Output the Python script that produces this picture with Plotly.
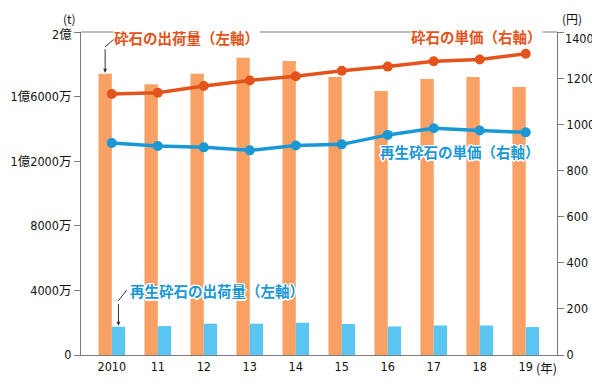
import plotly.graph_objects as go

years = ["2010", "11", "12", "13", "14", "15", "16", "17", "18", "19"]
crushed_ship = [1.742e8, 1.676e8, 1.742e8, 1.841e8, 1.820e8, 1.721e8, 1.635e8, 1.709e8, 1.721e8, 1.659e8]
recycled_ship = [1.75e7, 1.79e7, 1.94e7, 1.94e7, 2.00e7, 1.92e7, 1.77e7, 1.83e7, 1.83e7, 1.73e7]
crushed_price = [1131, 1137, 1166, 1190, 1208, 1232, 1250, 1273, 1281, 1306]
recycled_price = [919, 906, 900, 887, 908, 913, 954, 983, 973, 965]
left_tickvals = [0, 4e7, 8e7, 1.2e8, 1.6e8, 2e8]
left_ticktext = ["0", "4000万", "8000万", "1億2000万", "1億6000万", "2億"]
right_tickvals = [0, 200, 400, 600, 800, 1000, 1200, 1400]
right_ticktext = ["0", "200", "400", "600", "800", "1000", "1200", "1400"]

# page body has an 8px margin: compensate so the plot lands where the reference has it
OFF = 8
W, H = 600 - OFF, 385 - OFF
SL, SR, ST, SB = 81, 557, 31.6, 355  # plot area in screen pixels
xs = list(range(len(years)))
BW = 0.29

def px(x):
    return (x - SL) / (SR - SL)

def py(y):
    return (SB - y) / (SB - ST)

C_OBAR = "#F9A064"
C_BBAR = "#5BC5F2"
C_OLINE = "#E2541B"
C_BLINE = "#1A98D5"
AX = "#7a7a7a"
NARROW = "DejaVu Sans Condensed, Liberation Sans Narrow, Noto Sans CJK JP"
TICKFONT = dict(family=NARROW, size=12.5, color="#111")
CJK = "Noto Sans CJK JP"

fig = go.Figure()
fig.add_trace(go.Bar(x=xs, y=crushed_ship, width=BW, offset=-BW, marker=dict(color=C_OBAR, line_width=0), yaxis="y"))
fig.add_trace(go.Bar(x=xs, y=recycled_ship, width=BW, offset=0, marker=dict(color=C_BBAR, line_width=0), yaxis="y"))
fig.add_trace(go.Scatter(x=xs, y=crushed_price, mode="lines+markers", yaxis="y2",
                         line=dict(color=C_OLINE, width=3.5), marker=dict(size=10, color=C_OLINE)))
fig.add_trace(go.Scatter(x=xs, y=recycled_price, mode="lines+markers", yaxis="y2",
                         line=dict(color=C_BLINE, width=3.5), marker=dict(size=10, color=C_BLINE)))

shapes = [
    dict(type="line", xref="paper", yref="paper", x0=0, x1=1, y0=1, y1=1, line=dict(color=AX, width=1.2)),
    dict(type="line", xref="paper", yref="paper", x0=px(115), y0=py(37.7), x1=px(105), y1=py(46.7), line=dict(color="#333", width=1)),
    dict(type="line", xref="paper", yref="paper", x0=px(126.7), y0=py(290), x1=px(118.3), y1=py(300.7), line=dict(color="#333", width=1)),
]

halo = "white 1px 1px 0px, white -1px -1px 0px, white 1px -1px 0px, white -1px 1px 0px, white 0px 1.5px 0px, white 0px -1.5px 0px, white 1.5px 0px 0px, white -1.5px 0px 0px"

def label(text, cx, cy, color, size=14.5, family=CJK, xanchor="center", **kw):
    return dict(x=px(cx), y=py(cy), xref="paper", yref="paper", text=text, showarrow=False,
                xanchor=xanchor, yanchor="middle", font=dict(family=family, size=size, color=color, **kw))

# the topmost tick labels sit a little below their ticks in the reference
left_shown = left_ticktext[:-1] + [""]
right_shown = right_ticktext[:-1] + [""]

annotations = [
    dict(x=-BW / 2, y=crushed_ship[0], xref="x", yref="y", text="", showarrow=True, arrowhead=2, arrowsize=0.8,
         arrowwidth=1, arrowcolor="#333", ax=0, ay=-26, standoff=1),
    dict(x=BW / 2, y=recycled_ship[0], xref="x", yref="y", text="", showarrow=True, arrowhead=2, arrowsize=0.8,
         arrowwidth=1, arrowcolor="#333", ax=0, ay=-24, standoff=1),
    dict(label("<b>砕石の出荷量（左軸）</b>", 186, 37, C_OLINE), bgcolor="white", borderpad=0),
    dict(label("<b>砕石の単価（右軸）</b>", 476, 36, C_OLINE), bgcolor="white", borderpad=0),
    label("<b>再生砕石の単価（右軸）</b>", 459.5, 151.5, C_BLINE, shadow=halo),
    label("<b>再生砕石の出荷量（左軸）</b>", 217, 290, C_BLINE, shadow=halo),
    label("(t)", 69, 18, "#111", size=12),
    label("(円)", 572, 18.5, "#111", size=12),
    label("(年)", 546, 368, "#111", size=12.5),
    label(left_ticktext[-1], 74, 34.5, "#111", size=12.5, family=NARROW, xanchor="right"),
    label(right_ticktext[-1], 563, 38.5, "#111", size=12.5, family=NARROW, xanchor="left"),
]

fig.update_layout(
    width=W, height=H,
    margin=dict(l=SL - OFF, r=600 - SR, t=ST - OFF, b=385 - SB, pad=0, autoexpand=False),
    paper_bgcolor="white", plot_bgcolor="white",
    showlegend=False, barmode="overlay",
    xaxis=dict(range=[-0.67, 9.68], tickvals=xs, ticktext=years, showgrid=False, zeroline=False,
               showline=True, linecolor=AX, linewidth=1.2, ticks="", tickfont=TICKFONT, automargin=False),
    yaxis=dict(range=[0, 2e8], tickvals=left_tickvals, ticktext=left_shown, showgrid=False, zeroline=False,
               showline=True, linecolor=AX, linewidth=1.2, ticks="outside", ticklen=6, tickcolor=AX,
               tickfont=TICKFONT, automargin=False),
    yaxis2=dict(range=[0, 1400], tickvals=right_tickvals, ticktext=right_shown, overlaying="y", side="right",
                showgrid=False, zeroline=False, showline=True, linecolor=AX, linewidth=1.2, ticks="outside",
                ticklen=6, tickcolor=AX, tickfont=TICKFONT, automargin=False),
    shapes=shapes, annotations=annotations,
)

fig.write_html("out.html")
